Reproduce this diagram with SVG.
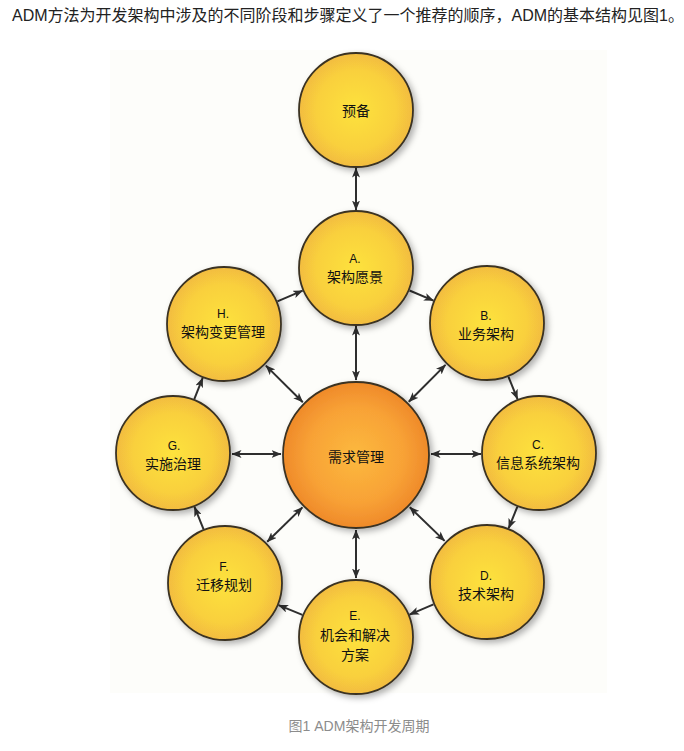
<svg xmlns="http://www.w3.org/2000/svg" width="684" height="751" viewBox="0 0 684 751">
<defs>
<radialGradient id="gy" cx="50%" cy="50%" r="50%">
<stop offset="0%" stop-color="#fde23c"/>
<stop offset="70%" stop-color="#f9d03e"/>
<stop offset="100%" stop-color="#f2bc3f"/>
</radialGradient>
<radialGradient id="go" cx="50%" cy="50%" r="50%">
<stop offset="0%" stop-color="#fcb93e"/>
<stop offset="65%" stop-color="#f8a236"/>
<stop offset="100%" stop-color="#ef8a2a"/>
</radialGradient>
<filter id="sh" x="-20%" y="-20%" width="150%" height="150%">
<feDropShadow dx="3" dy="3" stdDeviation="3" flood-color="#000" flood-opacity="0.3"/>
</filter>
<marker id="ah" viewBox="0 0 10 8" refX="9.5" refY="4" markerWidth="10" markerHeight="8" markerUnits="userSpaceOnUse" orient="auto-start-reverse">
<path d="M0,0 L10,4 L0,8 L2.5,4 z" fill="#2e2e2e"/>
</marker>
<style>
.n{fill:url(#gy);stroke:#3b3323;stroke-width:1.8;filter:url(#sh)}
.c{fill:url(#go);stroke:#3b3323;stroke-width:1.8;filter:url(#sh)}
.t{font-family:"Noto Sans CJK SC","Liberation Sans",sans-serif;font-size:14px;fill:#111;text-anchor:middle}
.l{font-family:"Liberation Sans","Noto Sans CJK SC",sans-serif;font-size:12px;fill:#111;text-anchor:middle}
.s{stroke:#2e2e2e;stroke-width:2;fill:none;marker-end:url(#ah)}
.d{stroke:#2e2e2e;stroke-width:2;fill:none;marker-end:url(#ah);marker-start:url(#ah)}
</style>
</defs>
<rect width="684" height="751" fill="#ffffff"/>
<text x="12" y="21" font-family="Liberation Sans,'Noto Sans CJK SC',sans-serif" font-size="16" fill="#222">ADM方法为开发架构中涉及的不同阶段和步骤定义了一个推荐的顺序，ADM的基本结构见图1。</text>
<rect x="110" y="50" width="497" height="643" fill="#fdfdfa"/>

<g id="connectors">
<line class="d" x1="356" y1="168" x2="356" y2="210"/>
<line class="s" x1="409.5" y1="290.5" x2="433.5" y2="300.6"/>
<line class="s" x1="277.4" y1="301.4" x2="302.6" y2="290.6"/>
<line class="s" x1="508.5" y1="376.9" x2="517.5" y2="399.1"/>
<line class="s" x1="517.3" y1="506.8" x2="508.7" y2="528.2"/>
<line class="s" x1="433.5" y1="604.4" x2="409.5" y2="614.6"/>
<line class="s" x1="302.4" y1="614.9" x2="278.6" y2="605.1"/>
<line class="s" x1="203.5" y1="529.1" x2="194.5" y2="506.9"/>
<line class="s" x1="194.3" y1="399.1" x2="202.7" y2="377.9"/>
<line class="d" x1="356" y1="380" x2="356" y2="326"/>
<line class="d" x1="408.8" y1="401.8" x2="445.5" y2="364.9"/>
<line class="d" x1="431" y1="454" x2="481" y2="454"/>
<line class="d" x1="409.8" y1="507.2" x2="444.6" y2="540.9"/>
<line class="d" x1="356" y1="530" x2="356" y2="578"/>
<line class="d" x1="302.4" y1="507.4" x2="267.2" y2="541.8"/>
<line class="d" x1="281" y1="454" x2="232" y2="454"/>
<line class="d" x1="302.8" y1="402.2" x2="265.9" y2="365.6"/>
</g>

<g id="prelim">
<circle class="n" cx="356" cy="110" r="57"/>
<text class="t" x="356" y="116" font-size="15">预备</text>
</g>
<g id="nodeA">
<circle class="n" cx="356" cy="268" r="57"/>
<text class="l" x="355" y="263">A.</text>
<text class="t" x="355" y="282">架构愿景</text>
</g>
<g id="nodeB">
<circle class="n" cx="487" cy="323" r="57"/>
<text class="l" x="486" y="320">B.</text>
<text class="t" x="486" y="339">业务架构</text>
</g>
<g id="nodeC">
<circle class="n" cx="539" cy="453" r="57"/>
<text class="l" x="538" y="449">C.</text>
<text class="t" x="538" y="468">信息系统架构</text>
</g>
<g id="nodeD">
<circle class="n" cx="487" cy="582" r="57"/>
<text class="l" x="486" y="580">D.</text>
<text class="t" x="486" y="599">技术架构</text>
</g>
<g id="nodeE">
<circle class="n" cx="356" cy="637" r="57"/>
<text class="l" x="355" y="620">E.</text>
<text class="t" x="355" y="640">机会和解决</text>
<text class="t" x="355" y="660">方案</text>
</g>
<g id="nodeF">
<circle class="n" cx="225" cy="583" r="57"/>
<text class="l" x="224" y="571">F.</text>
<text class="t" x="224" y="590">迁移规划</text>
</g>
<g id="nodeG">
<circle class="n" cx="173" cy="453" r="57"/>
<text class="l" x="174" y="450">G.</text>
<text class="t" x="173" y="469">实施治理</text>
</g>
<g id="nodeH">
<circle class="n" cx="224" cy="324" r="57"/>
<text class="l" x="223" y="318">H.</text>
<text class="t" x="223" y="337">架构变更管理</text>
</g>
<g id="center">
<circle class="c" cx="356" cy="455" r="73"/>
<text class="t" x="356" y="462" font-size="17">需求管理</text>
</g>

<text x="359" y="731" font-family="Liberation Sans,'Noto Sans CJK SC',sans-serif" font-size="14" fill="#8c8c8c" text-anchor="middle">图1 ADM架构开发周期</text>
</svg>
